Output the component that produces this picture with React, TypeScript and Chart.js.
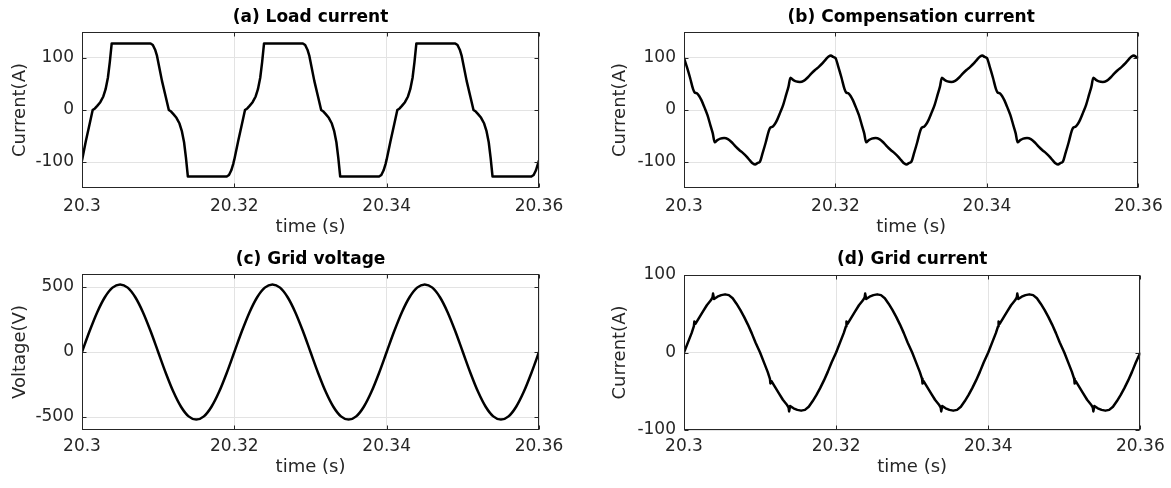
import React, { useEffect, useRef } from "react";
import { Chart, registerables } from "chart.js";

Chart.register(...registerables);

// ---------- axis ticks ----------
const timeOrigin = 20.3;
const xTickValues = [20.3, 20.32, 20.34, 20.36];
const xTickLabels = ["20.3", "20.32", "20.34", "20.36"];
const loadTicks = [-100, 0, 100];
const compTicks = [-100, 0, 100];
const voltageTicks = [-500, 0, 500];
const gridCurrentTicks = [-100, 0, 100];

// ---------- (a) load current: time (ms after 20.3 s) and amps ----------
const loadTimeMs = [
  0, 0.5, 1, 1.4, 1.7, 2, 2.4, 2.8, 3.1, 3.4, 3.65, 3.9, 9, 9.3, 9.6, 9.85,
  10, 10.5, 11, 11.4, 11.7, 12, 12.4, 12.8, 13.1, 13.4, 13.65, 13.9, 19, 19.3, 19.6, 19.85,
  20, 20.5, 21, 21.4, 21.7, 22, 22.4, 22.8, 23.1, 23.4, 23.65, 23.9, 29, 29.3, 29.6, 29.85,
  30, 30.5, 31, 31.4, 31.7, 32, 32.4, 32.8, 33.1, 33.4, 33.65, 33.9, 39, 39.3, 39.6, 39.85,
  40, 40.5, 41, 41.4, 41.7, 42, 42.4, 42.8, 43.1, 43.4, 43.65, 43.9, 49, 49.3, 49.6, 49.85,
  50, 50.5, 51, 51.4, 51.7, 52, 52.4, 52.8, 53.1, 53.4, 53.65, 53.9, 59, 59.3, 59.6, 59.85,
  60,
];
const loadCurrent = [
  -97, -60, -27, 0, 3, 8, 15, 26, 40, 62, 92, 128, 128, 125, 116, 104,
  93, 56, 25, 0, -3, -8, -15, -26, -40, -62, -92, -128, -128, -125, -116, -104,
  -95, -60, -27, 0, 3, 8, 15, 26, 40, 62, 92, 128, 128, 125, 116, 104,
  93, 56, 25, 0, -3, -8, -15, -26, -40, -62, -92, -128, -128, -125, -116, -104,
  -95, -60, -27, 0, 3, 8, 15, 26, 40, 62, 92, 128, 128, 125, 116, 104,
  93, 56, 25, 0, -3, -8, -15, -26, -40, -62, -92, -128, -128, -125, -116, -104,
  -97,
];

// ---------- (b) compensation current ----------
const compTimeMs = [
  0, 0.4, 0.8, 1.2, 1.4, 1.7, 2, 2.3, 2.7, 3.1, 3.5, 3.8, 4.05, 4.4, 4.8, 5.3, 5.8, 6.3, 6.8, 7.3, 7.8, 8.3, 8.7, 9.1, 9.4, 9.7,
  10, 10.4, 10.8, 11.2, 11.4, 11.7, 12, 12.3, 12.7, 13.1, 13.5, 13.8, 14.05, 14.4, 14.8, 15.3, 15.8, 16.3, 16.8, 17.3, 17.8, 18.3, 18.7, 19.1, 19.4, 19.7,
  20, 20.4, 20.8, 21.2, 21.4, 21.7, 22, 22.3, 22.7, 23.1, 23.5, 23.8, 24.05, 24.4, 24.8, 25.3, 25.8, 26.3, 26.8, 27.3, 27.8, 28.3, 28.7, 29.1, 29.4, 29.7,
  30, 30.4, 30.8, 31.2, 31.4, 31.7, 32, 32.3, 32.7, 33.1, 33.5, 33.8, 34.05, 34.4, 34.8, 35.3, 35.8, 36.3, 36.8, 37.3, 37.8, 38.3, 38.7, 39.1, 39.4, 39.7,
  40, 40.4, 40.8, 41.2, 41.4, 41.7, 42, 42.3, 42.7, 43.1, 43.5, 43.8, 44.05, 44.4, 44.8, 45.3, 45.8, 46.3, 46.8, 47.3, 47.8, 48.3, 48.7, 49.1, 49.4, 49.7,
  50, 50.4, 50.8, 51.2, 51.4, 51.7, 52, 52.3, 52.7, 53.1, 53.5, 53.8, 54.05, 54.4, 54.8, 55.3, 55.8, 56.3, 56.8, 57.3, 57.8, 58.3, 58.7, 59.1, 59.4, 59.7,
  60,
];
const compCurrent = [
  100, 82, 62, 40, 34, 32, 27, 19, 5, -10, -30, -45, -62, -58, -55, -54, -56, -62, -70, -77, -83, -90, -97, -103, -105, -102,
  -100, -82, -62, -40, -34, -32, -27, -19, -5, 10, 30, 45, 62, 58, 55, 54, 56, 62, 70, 77, 83, 90, 97, 103, 105, 102,
  100, 82, 62, 40, 34, 32, 27, 19, 5, -10, -30, -45, -62, -58, -55, -54, -56, -62, -70, -77, -83, -90, -97, -103, -105, -102,
  -100, -82, -62, -40, -34, -32, -27, -19, -5, 10, 30, 45, 62, 58, 55, 54, 56, 62, 70, 77, 83, 90, 97, 103, 105, 102,
  100, 82, 62, 40, 34, 32, 27, 19, 5, -10, -30, -45, -62, -58, -55, -54, -56, -62, -70, -77, -83, -90, -97, -103, -105, -102,
  -100, -82, -62, -40, -34, -32, -27, -19, -5, 10, 30, 45, 62, 58, 55, 54, 56, 62, 70, 77, 83, 90, 97, 103, 105, 102,
  100,
];

// ---------- (c) grid voltage ----------
const voltageTimeMs = [
  0, 1, 2, 3, 4, 5, 6, 7, 8, 9, 10, 11, 12, 13, 14, 15, 16, 17, 18, 19,
  20, 21, 22, 23, 24, 25, 26, 27, 28, 29, 30, 31, 32, 33, 34, 35, 36, 37, 38, 39,
  40, 41, 42, 43, 44, 45, 46, 47, 48, 49, 50, 51, 52, 53, 54, 55, 56, 57, 58, 59,
  60,
];
const gridVoltage = [
  0, 161, 306, 421, 495, 520, 495, 421, 306, 161, 0, -161, -306, -421, -495, -520, -495, -421, -306, -161,
  0, 161, 306, 421, 495, 520, 495, 421, 306, 161, 0, -161, -306, -421, -495, -520, -495, -421, -306, -161,
  0, 161, 306, 421, 495, 520, 495, 421, 306, 161, 0, -161, -306, -421, -495, -520, -495, -421, -306, -161,
  0,
];

// ---------- (d) grid current ----------
const gridTimeMs = [
  0, 0.6, 1, 1.3, 1.36, 1.5, 2, 2.5, 3, 3.5, 3.75, 3.82, 3.95, 4.4, 4.9, 5.4, 5.9, 6.4, 6.9, 7.4, 7.9, 8.4, 8.9, 9.4,
  10, 10.6, 11, 11.3, 11.36, 11.5, 12, 12.5, 13, 13.5, 13.75, 13.82, 13.95, 14.4, 14.9, 15.4, 15.9, 16.4, 16.9, 17.4, 17.9, 18.4, 18.9, 19.4,
  20, 20.6, 21, 21.3, 21.36, 21.5, 22, 22.5, 23, 23.5, 23.75, 23.82, 23.95, 24.4, 24.9, 25.4, 25.9, 26.4, 26.9, 27.4, 27.9, 28.4, 28.9, 29.4,
  30, 30.6, 31, 31.3, 31.36, 31.5, 32, 32.5, 33, 33.5, 33.75, 33.82, 33.95, 34.4, 34.9, 35.4, 35.9, 36.4, 36.9, 37.4, 37.9, 38.4, 38.9, 39.4,
  40, 40.6, 41, 41.3, 41.36, 41.5, 42, 42.5, 43, 43.5, 43.75, 43.82, 43.95, 44.4, 44.9, 45.4, 45.9, 46.4, 46.9, 47.4, 47.9, 48.4, 48.9, 49.4,
  50, 50.6, 51, 51.3, 51.36, 51.5, 52, 52.5, 53, 53.5, 53.75, 53.82, 53.95, 54.4, 54.9, 55.4, 55.9, 56.4, 56.9, 57.4, 57.9, 58.4, 58.9, 59.4,
  60,
];
const gridCurrent = [
  0, 15, 25, 34, 40, 37, 45, 53, 61, 67, 71, 76, 69, 72, 74, 75, 74, 70, 63, 55, 46, 36, 25, 13,
  0, -15, -25, -34, -40, -37, -45, -53, -61, -67, -71, -76, -69, -72, -74, -75, -74, -70, -63, -55, -46, -36, -25, -13,
  0, 15, 25, 34, 40, 37, 45, 53, 61, 67, 71, 76, 69, 72, 74, 75, 74, 70, 63, 55, 46, 36, 25, 13,
  0, -15, -25, -34, -40, -37, -45, -53, -61, -67, -71, -76, -69, -72, -74, -75, -74, -70, -63, -55, -46, -36, -25, -13,
  0, 15, 25, 34, 40, 37, 45, 53, 61, 67, 71, 76, 69, 72, 74, 75, 74, 70, 63, 55, 46, 36, 25, 13,
  0, -15, -25, -34, -40, -37, -45, -53, -61, -67, -71, -76, -69, -72, -74, -75, -74, -70, -63, -55, -46, -36, -25, -13,
  0,
];

// ---------- styling / layout ----------
const FONT = '"DejaVu Sans", Verdana, sans-serif';
const TICK_SIZE = 17;
const AXIS_TITLE_SIZE = 18;
const TITLE_SIZE = 17;
const LH = 1.2;
const TEXT_COLOR = "#262626";
const GRID_COLOR = "#e3e3e3";

type Layout = {
  x: number; y: number; w: number; h: number;
  l: number; t: number; r: number; b: number;
  titleCY: number; xTickCY: number; xTitleCY: number; yTitleCX: number;
};

type PanelDef = {
  title: string;
  yTitle: string;
  times: number[];
  values: number[];
  yMin: number;
  yMax: number;
  yTicks: number[];
  smooth: boolean;
  layout: Layout;
};

const panels: PanelDef[] = [
  {
    title: "(a) Load current", yTitle: "Current(A)", times: loadTimeMs, values: loadCurrent,
    yMin: -150, yMax: 150, yTicks: loadTicks, smooth: false,
    layout: { x: 0, y: 0, w: 585, h: 244, l: 82, t: 32, r: 539, b: 188, titleCY: 17.5, xTickCY: 206.5, xTitleCY: 227, yTitleCX: 20 },
  },
  {
    title: "(b) Compensation current", yTitle: "Current(A)", times: compTimeMs, values: compCurrent,
    yMin: -150, yMax: 150, yTicks: compTicks, smooth: true,
    layout: { x: 585, y: 0, w: 586, h: 244, l: 684, t: 32, r: 1141, b: 188, titleCY: 17.5, xTickCY: 206.5, xTitleCY: 227, yTitleCX: 620 },
  },
  {
    title: "(c) Grid voltage", yTitle: "Voltage(V)", times: voltageTimeMs, values: gridVoltage,
    yMin: -600, yMax: 600, yTicks: voltageTicks, smooth: true,
    layout: { x: 0, y: 244, w: 585, h: 244, l: 82, t: 274, r: 539, b: 430, titleCY: 260, xTickCY: 446.5, xTitleCY: 467, yTitleCX: 20 },
  },
  {
    title: "(d) Grid current", yTitle: "Current(A)", times: gridTimeMs, values: gridCurrent,
    yMin: -100, yMax: 100, yTicks: gridCurrentTicks, smooth: false,
    layout: { x: 585, y: 244, w: 586, h: 244, l: 684, t: 275, r: 1141, b: 430, titleCY: 260, xTickCY: 446.5, xTitleCY: 467, yTitleCX: 620 },
  },
];

const boxPlugin = {
  id: "matlabBox",
  afterDraw(chart: any) {
    const { ctx, chartArea: a } = chart;
    const L = Math.round(a.left) + 0.5;
    const T = Math.round(a.top) + 0.5;
    const R = Math.round(a.right) - 0.5;
    const B = Math.round(a.bottom) - 0.5;
    ctx.save();
    ctx.strokeStyle = TEXT_COLOR;
    ctx.lineWidth = 1;
    ctx.beginPath();
    const tk = 4;
    const xs = chart.scales.x;
    const ys = chart.scales.y;
    xs.ticks.forEach((t: any) => {
      const px = Math.round(xs.getPixelForValue(t.value)) + 0.5;
      ctx.moveTo(px, B); ctx.lineTo(px, B - tk);
      ctx.moveTo(px, T); ctx.lineTo(px, T + tk);
    });
    ys.ticks.forEach((t: any) => {
      const py = Math.round(ys.getPixelForValue(t.value)) + 0.5;
      ctx.moveTo(L, py); ctx.lineTo(L + tk, py);
      ctx.moveTo(R, py); ctx.lineTo(R - tk, py);
    });
    ctx.stroke();
    ctx.strokeRect(L, T, R - L, B - T);
    ctx.restore();
  },
};

function Panel({ def }: { def: PanelDef }) {
  const ref = useRef<HTMLCanvasElement | null>(null);
  useEffect(() => {
    const L = def.layout;
    const points = def.times.map((t, i) => ({ x: timeOrigin + t / 1000, y: def.values[i] }));
    const chart = new Chart(ref.current as HTMLCanvasElement, {
      type: "line",
      data: {
        datasets: [
          {
            data: points,
            borderColor: "#000000",
            borderWidth: 2.5,
            pointRadius: 0,
            fill: false,
            tension: 0,
            borderJoinStyle: "round",
            cubicInterpolationMode: def.smooth ? "monotone" : "default",
          } as any,
        ],
      },
      options: {
        responsive: false,
        animation: false,
        events: [],
        layout: { padding: { left: 0, top: 0, right: L.x + L.w - L.r, bottom: 0 } },
        plugins: {
          legend: { display: false },
          tooltip: { enabled: false },
          title: {
            display: true,
            text: def.title,
            fullSize: false,
            color: "#000000",
            font: { family: FONT, size: TITLE_SIZE, weight: "bold" },
            padding: {
              top: L.titleCY - L.y - (TITLE_SIZE * LH) / 2,
              bottom: L.t - L.titleCY - (TITLE_SIZE * LH) / 2,
            },
          },
        },
        scales: {
          x: {
            type: "linear",
            min: 20.3,
            max: 20.36,
            afterBuildTicks: (s: any) => {
              s.ticks = xTickValues.map((v) => ({ value: v }));
            },
            afterFit: (s: any) => {
              s.height = L.y + L.h - L.b;
            },
            ticks: {
              autoSkip: false,
              maxRotation: 0,
              color: TEXT_COLOR,
              font: { family: FONT, size: TICK_SIZE },
              padding: L.xTickCY - L.b - (TICK_SIZE * LH) / 2,
              callback: (_v: any, i: number) => xTickLabels[i],
            },
            grid: { color: GRID_COLOR, drawTicks: false, lineWidth: 1 },
            border: { display: false },
            title: {
              display: true,
              text: "time (s)",
              color: TEXT_COLOR,
              font: { family: FONT, size: AXIS_TITLE_SIZE },
              padding: { top: 0, bottom: L.y + L.h - L.xTitleCY - (AXIS_TITLE_SIZE * LH) / 2 },
            },
          },
          y: {
            type: "linear",
            min: def.yMin,
            max: def.yMax,
            afterBuildTicks: (s: any) => {
              s.ticks = def.yTicks.map((v) => ({ value: v }));
            },
            afterFit: (s: any) => {
              s.width = L.l - L.x;
            },
            ticks: {
              autoSkip: false,
              color: TEXT_COLOR,
              font: { family: FONT, size: TICK_SIZE },
              padding: 8,
              callback: (v: any) => String(v),
            },
            grid: { color: GRID_COLOR, drawTicks: false, lineWidth: 1 },
            border: { display: false },
            title: {
              display: true,
              text: def.yTitle,
              color: TEXT_COLOR,
              font: { family: FONT, size: AXIS_TITLE_SIZE },
              padding: { top: L.yTitleCX - L.x - (AXIS_TITLE_SIZE * LH) / 2, bottom: 0 },
            },
          },
        },
      } as any,
      plugins: [boxPlugin],
    });
    return () => chart.destroy();
  }, [def]);
  const L = def.layout;
  return (
    <canvas
      ref={ref}
      width={L.w}
      height={L.h}
      style={{ position: "absolute", left: L.x, top: L.y, width: L.w, height: L.h }}
    />
  );
}

export default function App() {
  return (
    <div style={{ position: "absolute", left: 0, top: 0, width: 1171, height: 488, background: "#ffffff", overflow: "hidden" }}>
      {panels.map((p) => (
        <Panel key={p.title} def={p} />
      ))}
    </div>
  );
}
